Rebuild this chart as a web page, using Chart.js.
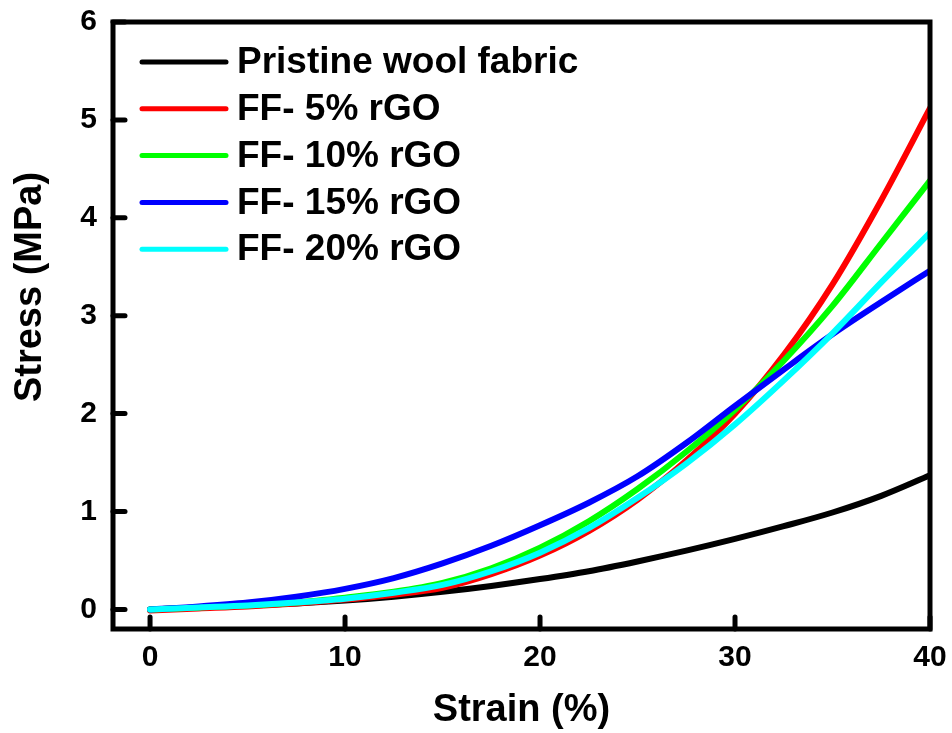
<!DOCTYPE html>
<html><head><meta charset="utf-8">
<script src="https://cdn.jsdelivr.net/npm/chart.js@4.4.0/dist/chart.umd.min.js"></script>
<style>html,body{margin:0;padding:0;background:#fff;}</style>
</head><body>
<canvas id="c" width="952" height="733" style="display:block;width:952px;height:733px"></canvas>
<script>
const strain   = [0, 2.5, 5, 7.5, 10, 12.5, 15, 17.5, 20, 22.5, 25, 27.5, 30, 32.5, 35, 37.5, 40];
const pristine = [0, 0.02, 0.04, 0.06, 0.09, 0.13, 0.18, 0.24, 0.31, 0.39, 0.49, 0.60, 0.72, 0.85, 0.99, 1.16, 1.37];
const ff5      = [-0.01, 0.01, 0.03, 0.06, 0.10, 0.15, 0.22, 0.36, 0.55, 0.80, 1.12, 1.52, 2.00, 2.60, 3.32, 4.18, 5.12];
const ff10     = [0, 0.02, 0.04, 0.07, 0.12, 0.18, 0.27, 0.42, 0.63, 0.90, 1.23, 1.61, 2.04, 2.54, 3.10, 3.74, 4.38];
const ff15     = [0, 0.03, 0.07, 0.13, 0.21, 0.32, 0.47, 0.65, 0.86, 1.09, 1.36, 1.70, 2.08, 2.45, 2.81, 3.14, 3.46];
const ff20     = [0, 0.02, 0.04, 0.07, 0.11, 0.17, 0.25, 0.39, 0.58, 0.83, 1.14, 1.49, 1.89, 2.34, 2.82, 3.34, 3.85];

const seriesLabels = ['Pristine wool fabric', 'FF- 5% rGO', 'FF- 10% rGO', 'FF- 15% rGO', 'FF- 20% rGO'];
const seriesColors = ['#000000', '#ff0000', '#00ff00', '#0000ff', '#00ffff'];
const seriesValues = [pristine, ff5, ff10, ff15, ff20];
const xTicks = [0, 10, 20, 30, 40];
const yTicks = [0, 1, 2, 3, 4, 5, 6];
const xTitle = 'Strain (%)';
const yTitle = 'Stress (MPa)';

const FONT = "'Liberation Sans', Arial, Helvetica, sans-serif";

const datasets = seriesValues.map((vals, i) => ({
  label: seriesLabels[i],
  data: strain.map((s, j) => ({x: s, y: vals[j]})),
  borderColor: seriesColors[i],
  backgroundColor: seriesColors[i],
  borderWidth: 6,
  borderCapStyle: 'round',
  borderJoinStyle: 'round',
  pointRadius: 0,
  fill: false,
  cubicInterpolationMode: 'monotone',
  order: seriesValues.length - i
}));

const framePlugin = {
  id: 'frame',
  afterDatasetsDraw(chart) {
    const {ctx, chartArea: a} = chart;
    const xs = chart.scales.x, ys = chart.scales.y;
    ctx.save();
    ctx.strokeStyle = '#000';
    ctx.lineWidth = 5;
    ctx.lineJoin = 'miter';
    ctx.strokeRect(a.left, a.top, a.right - a.left, a.bottom - a.top);
    ctx.lineCap = 'round';
    xTicks.forEach(v => {
      const px = xs.getPixelForValue(v);
      ctx.beginPath(); ctx.moveTo(px, a.bottom); ctx.lineTo(px, a.bottom - 12); ctx.stroke();
    });
    yTicks.forEach(v => {
      const py = ys.getPixelForValue(v);
      ctx.beginPath(); ctx.moveTo(a.left, py); ctx.lineTo(a.left + 12, py); ctx.stroke();
    });
    // legend
    ctx.font = 'bold 37px ' + FONT;
    ctx.textBaseline = 'middle';
    ctx.textAlign = 'left';
    chart.data.datasets.forEach((ds, i) => {
      const y = 62 + i * 46.8;
      ctx.strokeStyle = ds.borderColor;
      ctx.lineWidth = 5;
      ctx.beginPath(); ctx.moveTo(142, y); ctx.lineTo(226, y); ctx.stroke();
      ctx.fillStyle = '#000';
      ctx.fillText(ds.label, 237, y + 1);
    });
    // axis titles
    ctx.font = 'bold 38px ' + FONT;
    ctx.textAlign = 'center';
    ctx.fillText(xTitle, (a.left + a.right) / 2, 711);
    ctx.translate(31, 287);
    ctx.rotate(-Math.PI / 2);
    ctx.fillText(yTitle, 0, 0);
    ctx.restore();
  }
};

new Chart(document.getElementById('c'), {
  type: 'line',
  data: {datasets},
  options: {
    responsive: false,
    devicePixelRatio: 1,
    animation: false,
    layout: {padding: {top: 22, right: 22, left: 0, bottom: 0}},
    plugins: {legend: {display: false}, tooltip: {enabled: false}},
    scales: {
      x: {
        type: 'linear', min: -1.9, max: 40,
        afterBuildTicks(s) { s.ticks = xTicks.map(v => ({value: v})); },
        afterFit(s) { s.height = 104; s.paddingLeft = 0; s.paddingRight = 0; },
        grid: {display: false, drawTicks: false},
        border: {display: false},
        ticks: {color: '#000', padding: 11, maxRotation: 0, autoSkip: false,
                font: {family: FONT, size: 30, weight: 'bold'}},
        title: {display: false}
      },
      y: {
        type: 'linear', min: -0.2, max: 6,
        afterBuildTicks(s) { s.ticks = yTicks.map(v => ({value: v})); },
        afterFit(s) { s.width = 113; s.paddingTop = 0; s.paddingBottom = 0; },
        grid: {display: false, drawTicks: false},
        border: {display: false},
        ticks: {color: '#000', padding: 16, autoSkip: false,
                font: {family: FONT, size: 30, weight: 'bold'}},
        title: {display: false}
      }
    }
  },
  plugins: [framePlugin]
});
</script>
</body></html>
